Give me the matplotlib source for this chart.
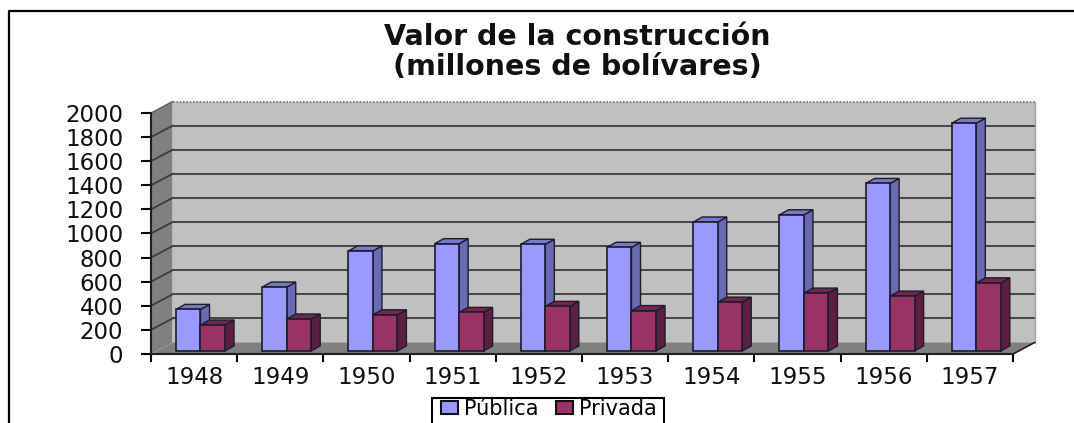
"""
Valor de la construcción, pseudo 3D column chart
"""
import matplotlib
matplotlib.use("Agg")
import matplotlib.pyplot as plt
from matplotlib.lines import Line2D
from matplotlib.patches import Patch, Rectangle

# ── Data ──────────────────────────────────────────────────────────────
years = ["1948", "1949", "1950", "1951", "1952", "1953", "1954", "1955", "1956", "1957"]
publica = [345, 530, 830, 890, 885, 860, 1070, 1130, 1390, 1890]
privada = [215, 265, 300, 320, 370, 335, 405, 480, 455, 565]
y_ticks = [0, 200, 400, 600, 800, 1000, 1200, 1400, 1600, 1800, 2000]

# ── Colours ───────────────────────────────────────────────────────────
C_WALL = "#c0c0c0"
C_SIDE = "#808080"
C_GRID = "#3c3c3c"
C_EDGE = "#1c1c2c"
C_PUB = ("#9999ff", "#6a6ab4", "#7878cc")   # front, side, top
C_PRI = ("#993366", "#5c1f40", "#742650")

W, H = 1074, 423
FONT = "DejaVu Sans"

# wall depth / bar geometry in data units
DX, DY = 0.25, 95
BAR_X, BAR_W = 0.29, 0.284
BAR_BASE = 25
BAR_DX, BAR_DY = 0.105, 42

fig = plt.figure(figsize=(W / 100, H / 100), dpi=100, facecolor="white")
# front plane of the plot: x 151..1013 px, y 354..113 px
ax = fig.add_axes([151 / W, 1 - 354 / H, 862 / W, 241 / H])
ax.set_xlim(0, 10)
ax.set_ylim(0, 2000)
ax.patch.set_visible(False)
for s in ("top", "right"):
    ax.spines[s].set_visible(False)
for s in ("left", "bottom"):
    ax.spines[s].set_linewidth(1.5)
    ax.spines[s].set_color("#202020")
    ax.spines[s].set_zorder(8)


def face(xs, ys, fc, z, ec=None, lw=0.0):
    ax.fill(xs, ys, facecolor=fc, edgecolor=ec if ec else fc, linewidth=lw,
            zorder=z, clip_on=False)


# ── Walls and floor ───────────────────────────────────────────────────
face([DX, 10 + DX, 10 + DX, DX], [DY, DY, 2000 + DY, 2000 + DY], C_WALL, 0)
face([0, DX, DX, 0], [0, DY, 2000 + DY, 2000], C_SIDE, 0.5)
face([0, DX, 10 + DX, 10], [0, DY, DY, 0], C_SIDE, 0.5)

for v in y_ticks[1:-1]:
    ax.plot([DX, 10 + DX], [v + DY, v + DY], color=C_GRID, lw=1.3, zorder=1, clip_on=False)
    ax.plot([0, DX], [v, v + DY], color=C_GRID, lw=1.3, zorder=1, clip_on=False)
ax.plot([DX, 10 + DX], [2000 + DY, 2000 + DY], color="#707070", lw=1.2, ls=(0, (1, 1)),
        zorder=1, clip_on=False)
ax.plot([0, DX], [2000, 2000 + DY], color="#606060", lw=1.0, zorder=1, clip_on=False)
ax.plot([10, 10 + DX], [0, DY], color="#202020", lw=1.2, zorder=2, clip_on=False)
ax.plot([10 + DX, 10 + DX], [DY, 2000 + DY], color="#a0a0a0", lw=1.0, zorder=1, clip_on=False)

# ── Bars ──────────────────────────────────────────────────────────────
def bars(x0s, values, cols, z):
    ax.bar(x0s, values, BAR_W, bottom=BAR_BASE, align="edge", color=cols[0],
           edgecolor=C_EDGE, linewidth=1.2, zorder=z + 1)
    for x, v in zip(x0s, values):
        t = BAR_BASE + v
        r = x + BAR_W
        face([r, r + BAR_DX, r + BAR_DX, r],
             [BAR_BASE, BAR_BASE + BAR_DY, t + BAR_DY, t], cols[1], z, C_EDGE, 1.0)
        face([x, x + BAR_DX, r + BAR_DX, r],
             [t, t + BAR_DY, t + BAR_DY, t], cols[2], z, C_EDGE, 1.0)


pos = list(range(len(years)))
bars([i + BAR_X for i in pos], publica, C_PUB, 3)
bars([i + BAR_X + BAR_W for i in pos], privada, C_PRI, 5)

# ── Axes text ─────────────────────────────────────────────────────────
ax.set_yticks(y_ticks)
ax.set_yticklabels([str(v) for v in y_ticks], fontsize=16.5, family=FONT, color="#101010")
ax.tick_params(axis="y", length=7, width=1.5, pad=13, color="black")
ax.set_xticks(range(11))
ax.set_xticklabels([""] * 11)
ax.tick_params(axis="x", length=6, width=1.5, color="black")
for i, yr in enumerate(years):
    ax.annotate(yr, xy=(i + 0.5, 0), xytext=(0, -17), textcoords="offset points",
                ha="center", va="center", fontsize=16.5, family=FONT, color="#101010")

fig.text(577 / W, 1 - 37 / H, "Valor de la construcción", fontsize=20.5, fontweight="bold",
         ha="center", va="center", family=FONT, color="#101010")
fig.text(577 / W, 1 - 67 / H, "(millones de bolívares)", fontsize=20.5, fontweight="bold",
         ha="center", va="center", family=FONT, color="#101010")

# ── Legend, its box runs off the lower edge like the source image ─────
fig.add_artist(Rectangle((432 / W, -10 / H), 232 / W, 35 / H,
                         facecolor="white", edgecolor="black", linewidth=1.5,
                         transform=fig.transFigure))
fig.legend(
    handles=[Patch(facecolor=C_PUB[0], edgecolor="#101010", linewidth=1.5, label="Pública"),
             Patch(facecolor=C_PRI[0], edgecolor="#101010", linewidth=1.5, label="Privada")],
    loc="upper left", bbox_to_anchor=(441 / W, 1 - 399 / H), bbox_transform=fig.transFigure,
    ncol=2, prop={"family": FONT, "size": 15}, frameon=False,
    borderaxespad=0, borderpad=0, handlelength=0.82, handleheight=0.6,
    handletextpad=0.3, columnspacing=0.82,
)

# ── Outer frame, only top and left survive the crop ───────────────────
fig.add_artist(Line2D([9 / W, 9 / W, 1], [0, 1 - 11 / H, 1 - 11 / H],
                      color="black", lw=1.6, transform=fig.transFigure))

fig.savefig("out.png", dpi=100, facecolor="white")
